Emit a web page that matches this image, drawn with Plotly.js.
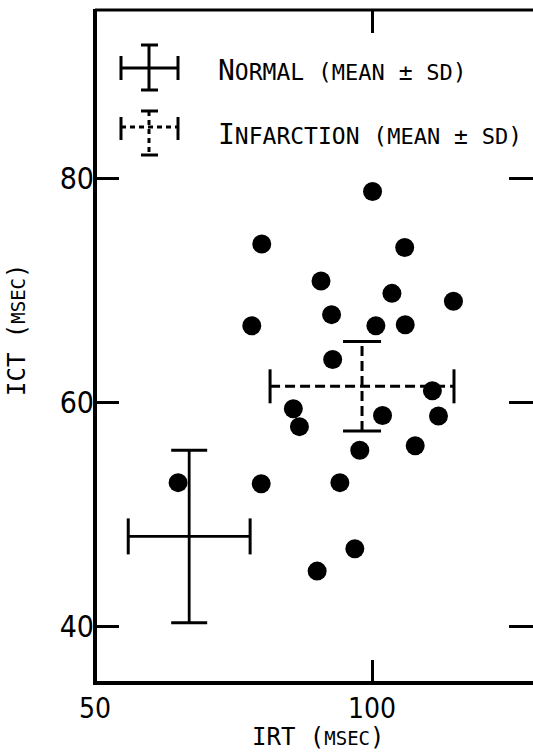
<!DOCTYPE html>
<html>
<head>
<meta charset="utf-8">
<script src="https://cdn.plot.ly/plotly-3.0.1.min.js"></script>
<style>html,body{margin:0;padding:0;overflow:hidden;background:#fff;}</style>
</head>
<body>
<div id="chart"></div>
<script>
// ---- data ----
const irt = [100.1, 80.1, 105.9, 90.8, 103.6, 114.7, 92.7, 78.3, 100.7, 106.0, 92.9, 110.9,
             85.8, 86.9, 101.9, 112.0, 97.8, 107.8, 65.0, 80.0, 94.2, 96.9, 90.1];
const ict = [78.8, 74.1, 73.8, 70.8, 69.7, 69.0, 67.8, 66.8, 66.8, 66.9, 63.8, 61.0,
             59.4, 57.8, 58.8, 58.75, 55.7, 56.1, 52.8, 52.7, 52.8, 46.9, 44.9];

const groupNames = ['Normal', 'Infarction'];
const meanIRT = [67.0, 98.2];
const sdIRT   = [11.0, 16.6];
const meanICT = [48.0, 61.4];
const sdICT   = [7.7, 4.0];

const xTickVals = [50, 100];
const xTickText = ['50', '100'];
const yTickVals = [40, 60, 80];
const yTickText = ['40', '60', '80'];

// ---- layout geometry ----
const L = 95, T = 10, W = 438, H = 673;
const pxPerX = 5.54, pxPerY = 11.2;
const xRange = [50, 50 + W / pxPerX];
const yLow = 40 - (T + H - 626) / pxPerY;
const yRange = [yLow, yLow + H / pxPerY];
const px2x = p => (p - L) / W;          // pixel -> paper
const py2y = p => (T + H - p) / H;

const styles = [
  {dash: 'solid', width: 2.8, capX: 18, capY: 18},
  {dash: '10px,5px', width: 3, capX: 17, capY: 19}
];

const traces = [];
groupNames.forEach((g, i) => {
  const mx = meanIRT[i], my = meanICT[i], sx = sdIRT[i], sy = sdICT[i];
  const st = styles[i];
  const cx = st.capY / pxPerX;
  const cy = st.capX / pxPerY;
  traces.push({
    type: 'scatter', mode: 'lines', name: g + ' SD', showlegend: false, hoverinfo: 'skip',
    x: [mx - sx, mx + sx, null, mx, mx],
    y: [my, my, null, my - sy, my + sy],
    line: {color: '#000', width: st.width, dash: st.dash}
  });
  traces.push({
    type: 'scatter', mode: 'lines', name: g + ' caps', showlegend: false, hoverinfo: 'skip',
    x: [mx - sx, mx - sx, null, mx + sx, mx + sx, null, mx - cx, mx + cx, null, mx - cx, mx + cx],
    y: [my - cy, my + cy, null, my - cy, my + cy, null, my + sy, my + sy, null, my - sy, my - sy],
    line: {color: '#000', width: 3}
  });
});
traces.push({
  type: 'scatter', mode: 'markers', name: 'Infarction', showlegend: false,
  x: irt, y: ict,
  marker: {color: '#000', size: 19, line: {width: 0}}
});

// ---- frame and legend key drawn as shapes (pixel positions converted to paper) ----
function seg(x0, y0, x1, y1, dash, w) {
  return {type: 'line', xref: 'paper', yref: 'paper',
          x0: px2x(x0), y0: py2y(y0), x1: px2x(x1), y1: py2y(y1),
          line: {color: '#000', width: w || 3, dash: dash || 'solid'}};
}
const shapes = [
  // frame: left, bottom, top (right edge lies outside the picture)
  seg(95, T - 1, 95, T + H + 2, 'solid', 4),
  seg(93, T + H, 533, T + H, 'solid', 4),
  seg(95, T, 533, T, 'solid', 3),
  // normal key
  seg(121, 68, 178, 68), seg(149, 45, 149, 90),
  seg(121, 56, 121, 80), seg(178, 56, 178, 80),
  seg(141, 45, 158, 45), seg(141, 90, 158, 90),
  // infarction key
  seg(121, 127, 178, 127, '5px,4px'), seg(149, 111, 149, 155, '5px,4px'),
  seg(121, 117, 121, 140), seg(178, 117, 178, 140),
  seg(141, 111, 158, 111), seg(141, 155, 158, 155)
];

const mono = 'DejaVu Sans Mono, Liberation Mono, monospace';
const sc = (s, n) => '<span style="font-size:' + (n || 22) + 'px">' + s + '</span>';
const annotations = [
  {xref: 'paper', yref: 'paper', x: px2x(216), y: py2y(70), xanchor: 'left', yanchor: 'middle',
   showarrow: false, font: {family: mono, size: 23, color: '#000'},
   text: sc('N', 28) + 'ORMAL (' + sc('MEAN') + ' ± ' + sc('SD') + ')'},
  {xref: 'paper', yref: 'paper', x: px2x(216), y: py2y(134), xanchor: 'left', yanchor: 'middle',
   showarrow: false, font: {family: mono, size: 23, color: '#000'},
   text: sc('I', 28) + 'NFARCTION (' + sc('MEAN') + ' ± ' + sc('SD') + ')'},
  // axis titles
  {xref: 'paper', yref: 'paper', x: px2x(318), y: py2y(737), xanchor: 'center', yanchor: 'middle',
   showarrow: false, font: {family: mono, size: 24, color: '#000'},
   text: 'IRT (' + sc('MSEC', 19) + ')'},
  {xref: 'paper', yref: 'paper', x: px2x(17), y: py2y(330), xanchor: 'center', yanchor: 'middle',
   showarrow: false, textangle: -90, font: {family: mono, size: 24, color: '#000'},
   text: 'ICT (' + sc('MSEC', 19) + ')'}
];

const narrow = 'Liberation Sans Narrow, DejaVu Sans Condensed, sans-serif';
const layout = {
  width: 533, height: 755,
  margin: {l: L, r: 0, t: T, b: 755 - T - H, pad: 0},
  paper_bgcolor: '#fff', plot_bgcolor: '#fff',
  showlegend: false,
  xaxis: {
    range: xRange, tickmode: 'array', tickvals: xTickVals, ticktext: xTickText,
    showgrid: false, zeroline: false, showline: false,
    mirror: 'ticks', ticks: 'inside', ticklen: 23, tickwidth: 3, tickcolor: '#000',
    tickfont: {family: narrow, size: 28, color: '#000'}, ticklabelstandoff: 6
  },
  yaxis: {
    range: yRange, tickmode: 'array', tickvals: yTickVals, ticktext: yTickText,
    showgrid: false, zeroline: false, showline: false,
    mirror: 'ticks', ticks: 'inside', ticklen: 24, tickwidth: 3, tickcolor: '#000',
    tickfont: {family: narrow, size: 30, color: '#000'}, ticklabelstandoff: 0
  },
  shapes: shapes,
  annotations: annotations
};

Plotly.newPlot('chart', traces, layout, {displayModeBar: false, staticPlot: true});
</script>
</body>
</html>
